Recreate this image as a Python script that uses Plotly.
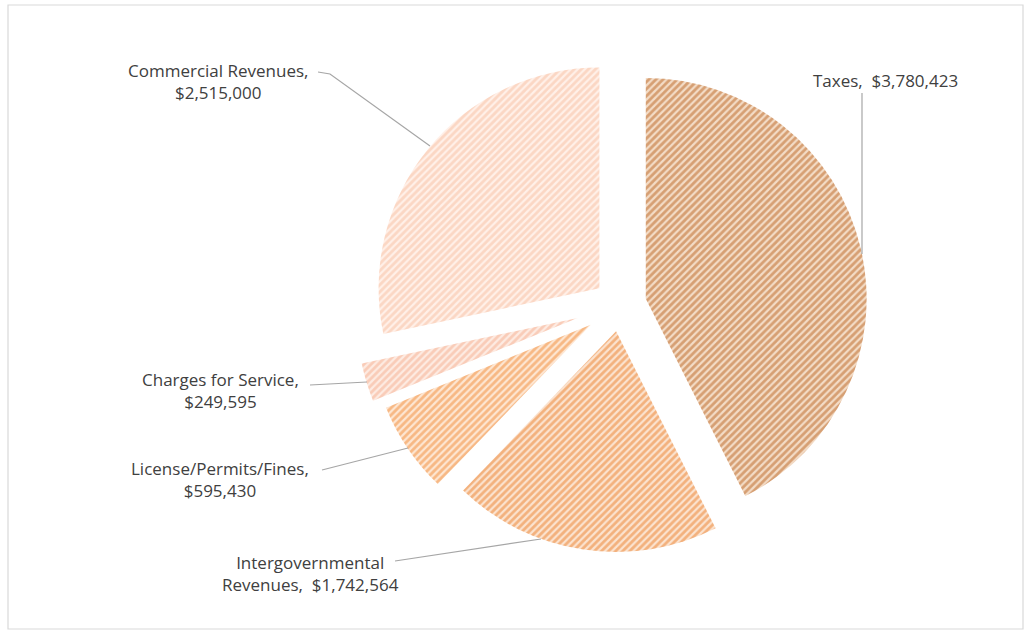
import plotly.graph_objects as go

categories = ["Taxes", "Intergovernmental Revenues", "License/Permits/Fines",
              "Charges for Service", "Commercial Revenues"]
values = [3780423, 1742564, 595430, 249595, 2515000]
label_texts = ["Taxes,  $3,780,423", "Intergovernmental<br>Revenues,  $1,742,564",
               "License/Permits/Fines,<br>$595,430", "Charges for Service,<br>$249,595",
               "Commercial Revenues,<br>$2,515,000"]

fg_colors = ["#b9621f", "#ec7f2c", "#f18a36", "#f5ad8e", "#f8bea0"]
bg_colors = ["#f3dcc6", "#fbe3cf", "#fde6d2", "#fdebe2", "#fff0e8"]
pulls = [0.12, 0.12, 0.16, 0.2, 0.12]

W, H = 1025, 632

def px(x):
    return x / W

def py(y):
    return 1 - y / H

fig = go.Figure()
fig.add_trace(go.Pie(
    labels=categories, values=values, sort=False, direction="clockwise",
    rotation=0, pull=pulls, textinfo="none", hoverinfo="label+value",
    marker=dict(colors=bg_colors,
                line=dict(color="rgba(255,255,255,0)", width=0),
                pattern=dict(shape="/", fgcolor=fg_colors, bgcolor=bg_colors,
                             size=5, solidity=0.55, fillmode="overlay")),
    domain=dict(x=[px(320), px(920)], y=[py(570), py(40)]),
    showlegend=False,
))

font = dict(family="Open Sans, Noto Sans, sans-serif", size=17, color="#404040")
label_pos = [(885, 80), (310, 573), (220, 479), (220, 390), (218, 81)]
for txt, (x, y) in zip(label_texts, label_pos):
    fig.add_annotation(x=px(x), y=py(y), xref="paper", yref="paper", text=txt,
                       showarrow=False, font=font, align="center",
                       xanchor="center", yanchor="middle")

leader_lines = [
    [(862, 93), (862, 254)],
    [(395, 561), (541, 539)],
    [(322, 470), (408, 448)],
    [(310, 385), (367, 382)],
    [(318, 72), (330, 74), (430, 146)],
]
for pts in leader_lines:
    path = "M " + " L ".join(f"{px(a)},{py(b)}" for a, b in pts)
    fig.add_shape(type="path", path=path, xref="paper", yref="paper",
                  line=dict(color="#a6a6a6", width=1.2))

fig.add_shape(type="rect", xref="paper", yref="paper", x0=px(8), x1=px(1023),
              y0=py(629), y1=py(5), line=dict(color="#d9d9d9", width=1.2))

fig.update_layout(width=W, height=H, margin=dict(l=0, r=0, t=0, b=0),
                  paper_bgcolor="white", plot_bgcolor="white")
fig.write_html("out.html")
